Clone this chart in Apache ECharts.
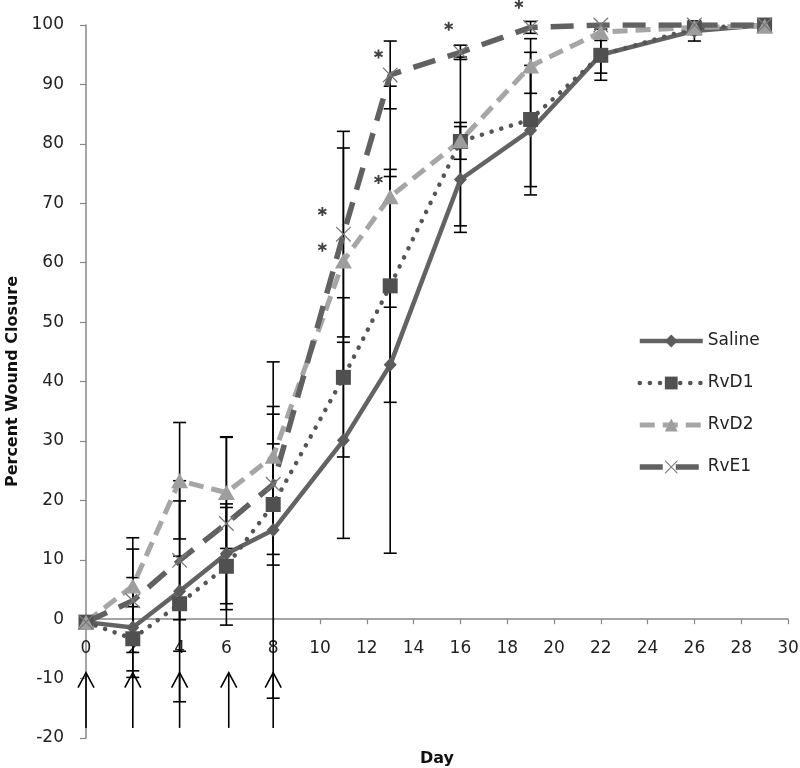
<!DOCTYPE html>
<html>
<head>
<meta charset="utf-8">
<script src="https://cdn.jsdelivr.net/npm/echarts@6/dist/echarts.min.js"></script>
<style>html,body{margin:0;padding:0;background:#fff;}#c{width:800px;height:768px;}</style>
</head>
<body>
<div id="c"></div>
<script>
const days = [0, 2, 4, 6, 8, 11, 13, 16, 19, 22, 26, 29];
const saline    = [-0.5, -1.4, 4.7, 11.0, 15.0, 30.1, 42.8, 74.0, 82.3, 95.0, 99.0, 100];
const salineErr = [0, 8.4, 18.6, 8.4, 28.3, 16.5, 31.7, 8.9, 10.9, 4.3, 1.7, 0];
const rvd1      = [-0.5, -3.3, 2.6, 8.9, 19.3, 40.7, 56.1, 80.4, 84.1, 94.9, 99.5, 100];
const rvd1Err   = [0, 5.4, 8.0, 9.9, 10.2, 13.4, 19.6, 14.2, 11.3, 3.0, 0.5, 0];
const rvd2      = [-0.5, 5.6, 23.3, 21.3, 27.4, 60.3, 71.1, 80.5, 93.1, 98.8, 99.6, 99.8];
const rvd2Err   = [0, 8.1, 9.8, 9.4, 8.4, 19.0, 18.6, 3.1, 4.6, 1.4, 0.4, 0];
const rve1      = [-0.5, 3.1, 9.9, 16.1, 22.7, 64.8, 91.6, 95.4, 99.6, 100, 100, 100];
const rve1Err   = [0, 8.7, 10.0, 14.5, 11.8, 17.3, 5.7, 1.2, 1.0, 0, 0, 0];
const starDays   = [10.1, 10.1, 12.5, 12.5, 15.5, 18.5];
const starValues = [68.6, 62.6, 74.0, 95.1, 99.8, 103.5];
const arrowDays = [0, 2, 4, 6.1, 8];
const arrowTop = -9;
const arrowBottom = -18.3;
const seriesNames = ['Saline', 'RvD1', 'RvD2', 'RvE1'];
const yMin = -20, yMax = 100, yStep = 10;
const xMin = 0, xMax = 30, xStep = 2;

const FONT = 'DejaVu Sans';
const xPath = 'path://M0,0 L1.2,0 L10,8.8 L18.8,0 L20,0 L20,1.2 L11.2,10 L20,18.8 L20,20 L18.8,20 L10,11.2 L1.2,20 L0,20 L0,18.8 L8.8,10 L0,1.2 Z';
const starPath = 'path://M4,0 L6,0 L6,3.3 L8.9,1.6 L9.9,3.4 L7,5 L9.9,6.6 L8.9,8.4 L6,6.7 L6,10 L4,10 L4,6.7 L1.1,8.4 L0.1,6.6 L3,5 L0.1,3.4 L1.1,1.6 L4,3.3 Z';

const styles = {
  Saline: { line: { color: '#636363', width: 4.5, type: 'solid' }, symbol: 'diamond', size: [13, 14], color: '#5c5c5c' },
  RvD1:   { line: { color: '#555555', width: 4.5, type: [0.1, 10], cap: 'round' }, symbol: 'rect', size: 15, color: '#505050' },
  RvD2:   { line: { color: '#a6a6a6', width: 5, type: [15, 8] }, symbol: 'triangle', size: [17, 15], color: '#9e9e9e' },
  RvE1:   { line: { color: '#616161', width: 5.5, type: [23, 13] }, symbol: xPath, size: 15, color: '#7a7a7a' }
};

function pairs(vals) { return days.map((d, i) => [d, vals[i]]); }

function errSeries(vals, errs) {
  return {
    type: 'custom', silent: true, z: 1, clip: false,
    data: days.map((d, i) => [d, vals[i] - errs[i], vals[i] + errs[i], errs[i]]).filter(r => r[3] > 0),
    encode: { x: 0, y: [1, 2] },
    renderItem: function (params, api) {
      const lo = api.coord([api.value(0), api.value(1)]);
      const hi = api.coord([api.value(0), api.value(2)]);
      const w = 6.5;
      const st = { stroke: '#000', lineWidth: 1.6 };
      return { type: 'group', children: [
        { type: 'line', shape: { x1: lo[0], y1: lo[1], x2: hi[0], y2: hi[1] }, style: st },
        { type: 'line', shape: { x1: lo[0] - w, y1: lo[1], x2: lo[0] + w, y2: lo[1] }, style: st },
        { type: 'line', shape: { x1: hi[0] - w, y1: hi[1], x2: hi[0] + w, y2: hi[1] }, style: st }
      ]};
    }
  };
}

function lineSeries(name, vals) {
  const s = styles[name];
  return {
    name: name, type: 'line', z: 3, data: pairs(vals),
    symbol: s.symbol, symbolSize: s.size,
    lineStyle: s.line, itemStyle: { color: s.color }
  };
}

const chart = echarts.init(document.getElementById('c'));
chart.setOption({
  animation: false,
  backgroundColor: '#fff',
  textStyle: { fontFamily: FONT },
  grid: { left: 86, right: 12, top: 25, bottom: 30, containLabel: false, outerBoundsMode: 'none' },
  legend: {
    data: seriesNames.map(n => ({ name: n, lineStyle: styles[n].line, itemStyle: { color: styles[n].color } })),
    orient: 'vertical', left: 632, top: 327,
    itemWidth: 63, itemHeight: 16, itemGap: 24,
    textStyle: { fontSize: 17, color: '#222', fontFamily: FONT, lineHeight: 18 },
    selectedMode: false
  },
  xAxis: {
    type: 'value', min: xMin, max: xMax, interval: xStep,
    name: 'Day', nameLocation: 'middle', nameGap: 132,
    nameTextStyle: { fontWeight: 'bold', fontSize: 16, color: '#111', fontFamily: FONT },
    axisLine: { onZero: false, lineStyle: { color: '#868686', width: 1.5 } },
    axisTick: { show: true, length: 5, lineStyle: { color: '#868686', width: 1.2 } },
    axisLabel: { margin: 21, fontSize: 17, color: '#222', fontFamily: FONT },
    splitLine: { show: false }
  },
  yAxis: {
    type: 'value', min: yMin, max: yMax, interval: yStep,
    name: 'Percent Wound Closure', nameLocation: 'middle', nameGap: 62,
    nameTextStyle: { fontWeight: 'bold', fontSize: 16, color: '#111', fontFamily: FONT },
    axisLine: { show: true, onZero: false, lineStyle: { color: '#868686', width: 1.5 } },
    axisTick: { show: true, length: 6, lineStyle: { color: '#868686', width: 1.2 } },
    axisLabel: { margin: 22, fontSize: 17, color: '#222', fontFamily: FONT },
    splitLine: { show: false }
  },
  series: [
    errSeries(saline, salineErr),
    errSeries(rvd1, rvd1Err),
    errSeries(rvd2, rvd2Err),
    errSeries(rve1, rve1Err),
    {
      type: 'custom', silent: true, z: 1, clip: false,
      data: arrowDays.map(d => [d, arrowBottom, arrowTop]),
      encode: { x: 0, y: [1, 2] },
      renderItem: function (params, api) {
        const b = api.coord([api.value(0), api.value(1)]);
        const t = api.coord([api.value(0), api.value(2)]);
        const st = { stroke: '#000', lineWidth: 1.6, fill: null };
        return { type: 'group', children: [
          { type: 'line', shape: { x1: b[0], y1: b[1], x2: t[0], y2: t[1] }, style: st },
          { type: 'polyline', shape: { points: [[t[0] - 8, t[1] + 15], [t[0], t[1]], [t[0] + 8, t[1] + 15]] }, style: st }
        ]};
      }
    },
    lineSeries('Saline', saline),
    lineSeries('RvD1', rvd1),
    lineSeries('RvD2', rvd2),
    lineSeries('RvE1', rve1),
    {
      type: 'scatter', z: 5, silent: true, clip: false,
      data: starDays.map((d, i) => [d, starValues[i]]),
      symbol: starPath, symbolSize: 9,
      itemStyle: { color: '#111' }
    }
  ]
});
// Place the x axis on the y = 0 line (via the library's own scale).
const yZeroPx = chart.convertToPixel({ yAxisIndex: 0 }, 0);
const yBottomPx = chart.convertToPixel({ yAxisIndex: 0 }, yMin);
chart.setOption({ xAxis: { offset: yZeroPx - yBottomPx } });
</script>
</body>
</html>
